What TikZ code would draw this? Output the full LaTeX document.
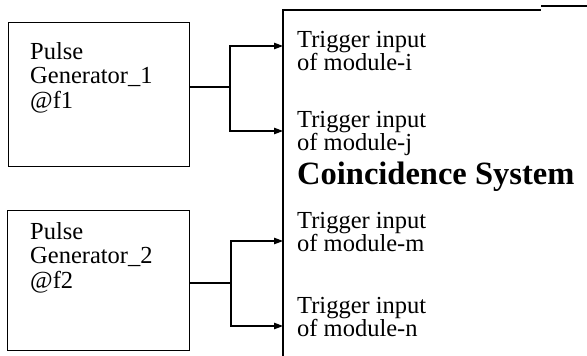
\documentclass[tikz,border=0pt]{standalone}
\usepackage{fontspec}
\setmainfont{Liberation Serif}
\usepackage{tikz}
\usetikzlibrary{arrows.meta, positioning}

\begin{document}
\begin{tikzpicture}[
      x=1pt, y=-1pt,
      genbox/.style={draw, line width=1.1pt, anchor=north west, inner sep=0pt},
      gentext/.style={anchor=north west, inner sep=0pt, align=left, font=\fontsize{24.5}{24.5}\selectfont},
      trig/.style={anchor=north west, inner sep=0pt, align=left, font=\fontsize{24.5}{19.5}\selectfont},
      wire/.style={line width=1.1pt},
      arrow/.style={wire, -{Triangle[length=9pt, width=6.5pt]}},
    ]
    \useasboundingbox (0,0) rectangle (587,356);
    \clip (0,0) rectangle (587,356);

    % pulse generators
    \node[genbox, minimum width=181pt, minimum height=144pt] (gen1) at (8,22) {};
    \node[genbox, minimum width=182pt, minimum height=140pt] (gen2) at (7,210) {};
    \node[gentext] (gen1txt) at (30,42) {Pulse\\ Generator\_1\\ @f1};
    \node[gentext] (gen2txt) at (30,222) {Pulse\\ Generator\_2\\ @f2};

    % coincidence system (open to the right and below)
    \coordinate (sysbl) at (283,356);
    \coordinate (systl) at (283,10);
    \coordinate (systr) at (541,10);
    \draw[wire] (sysbl) -- (systl) -- (systr);
    \draw[wire] (541,6) -- (587,6);
    \node[anchor=north west, inner sep=0pt, font=\fontsize{32.5}{34}\selectfont\bfseries] (sys) at (297,162) {Coincidence System};

    \node[trig] (trigI) at (297,31) {Trigger input\\ of module-i};
    \node[trig] (trigJ) at (297,111) {Trigger input\\ of module-j};
    \node[trig] (trigM) at (297,212) {Trigger input\\ of module-m};
    \node[trig] (trigN) at (297,297) {Trigger input\\ of module-n};

    % inputs on the system edge
    \coordinate (inI) at (283,46);
    \coordinate (inJ) at (283,131);
    \coordinate (inM) at (283,241);
    \coordinate (inN) at (283,326);
    \coordinate (j1) at (230,87);
    \coordinate (j2) at (231,283);

    \draw[wire] (gen1.east |- j1) -- (j1);
    \draw[arrow] (j1) |- (inI);
    \draw[arrow] (j1) |- (inJ);
    \draw[wire] (gen2.east |- j2) -- (j2);
    \draw[arrow] (j2) |- (inM);
    \draw[arrow] (j2) |- (inN);
  \end{tikzpicture}
\end{document}
